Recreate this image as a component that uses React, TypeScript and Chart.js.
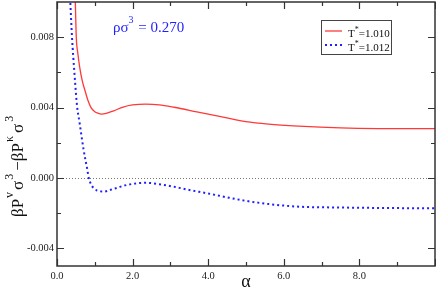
import React, { useEffect, useRef } from 'react';
import { Chart, registerables } from 'chart.js';

Chart.register(...registerables);

// ---- data ----
const alphaRed = [0.44, 0.484, 0.51, 0.55, 0.60, 0.67, 0.75, 0.82, 0.90, 1.0, 1.08, 1.18, 1.3, 1.5, 1.75, 2.0, 2.35, 2.7, 3.1, 3.7, 4.3, 5.0, 5.6, 6.4, 7.5, 8.5, 10];
const valueRed = [0.0118, 0.0100, 0.0080, 0.0071, 0.0063, 0.0055, 0.0049, 0.0044, 0.0040, 0.00377, 0.00368, 0.00363, 0.00367, 0.00382, 0.00403, 0.00415, 0.0042, 0.00416, 0.00402, 0.00376, 0.0035, 0.0032, 0.00306, 0.00295, 0.00285, 0.00281, 0.0028];

const alphaBlue = [0.30, 0.352, 0.397, 0.46, 0.53, 0.60, 0.661, 0.70, 0.75, 0.80, 0.84, 0.90, 0.97, 1.05, 1.15, 1.25, 1.4, 1.6, 1.8, 2.05, 2.35, 2.7, 3.1, 3.5, 4.0, 4.5, 5.0, 5.6, 6.4, 7.2, 8.0, 9.0, 10];
const valueBlue = [0.0125, 0.0100, 0.0080, 0.0060, 0.0041, 0.0031, 0.0022, 0.00165, 0.00105, 0.0005, 0.0, -0.00035, -0.00058, -0.0007, -0.00076, -0.00077, -0.00068, -0.00055, -0.00042, -0.00032, -0.00027, -0.00035, -0.0005, -0.00068, -0.00088, -0.0011, -0.0013, -0.00148, -0.00163, -0.00167, -0.00169, -0.00171, -0.00172];

const xMajorTicks = [0, 2, 4, 6, 8, 10];
const xMinorTicks = [1, 3, 5, 7, 9];
const yMajorTicks = [-0.004, 0, 0.004, 0.008];
const yMinorTicks = [-0.002, 0.002, 0.006];

const seriesTemps = ['1.010', '1.012'];
const densityValue = '0.270';

const SERIF = "'Liberation Serif', 'DejaVu Serif', serif";
const RED = '#ff3838';
const BLUE = '#1f1fff';

type Seg = { t: string; sup?: boolean; gap?: number };

function drawRich(ctx: CanvasRenderingContext2D, segs: Seg[], x: number, y: number, main: number, sup: number, rise: number) {
  let cx = x;
  for (const s of segs) {
    ctx.font = `${s.sup ? sup : main}px ${SERIF}`;
    ctx.fillText(s.t, cx, s.sup ? y - rise : y);
    cx += ctx.measureText(s.t).width + (s.gap || 0);
  }
}

const decorPlugin = {
  id: 'decor',
  beforeDatasetsDraw(chart: any) {
    const { ctx, chartArea, scales } = chart;
    const y0 = scales.y.getPixelForValue(0);
    ctx.save();
    ctx.strokeStyle = '#777';
    ctx.lineWidth = 1;
    ctx.setLineDash([1, 2]);
    ctx.beginPath();
    ctx.moveTo(chartArea.left, Math.round(y0) + 0.5);
    ctx.lineTo(chartArea.right, Math.round(y0) + 0.5);
    ctx.stroke();
    ctx.restore();
  },
  afterDraw(chart: any) {
    const { ctx, chartArea, scales } = chart;
    const { left, right, top, bottom } = chartArea;
    const xs = scales.x;
    const ys = scales.y;
    ctx.save();
    // frame
    ctx.strokeStyle = '#333';
    ctx.lineWidth = 1.5;
    ctx.strokeRect(left, top, right - left, bottom - top);
    // ticks
    ctx.lineWidth = 1.2;
    ctx.beginPath();
    const xt = (v: number, len: number) => {
      const p = Math.round(xs.getPixelForValue(v)) + 0.5;
      ctx.moveTo(p, bottom); ctx.lineTo(p, bottom - len);
      ctx.moveTo(p, top); ctx.lineTo(p, top + len);
    };
    const yt = (v: number, len: number) => {
      const p = Math.round(ys.getPixelForValue(v)) + 0.5;
      ctx.moveTo(left, p); ctx.lineTo(left + len, p);
      ctx.moveTo(right, p); ctx.lineTo(right - len, p);
    };
    xMajorTicks.forEach(v => xt(v, 7));
    xMinorTicks.forEach(v => xt(v, 4));
    yMajorTicks.forEach(v => yt(v, 7));
    yMinorTicks.forEach(v => yt(v, 4));
    ctx.stroke();

    // legend box
    ctx.fillStyle = '#fff';
    ctx.fillRect(321, 20, 70, 34);
    ctx.strokeStyle = '#444';
    ctx.lineWidth = 1;
    ctx.strokeRect(321.5, 20.5, 70, 34);
    const rows = [
      { color: RED, dash: [] as number[], width: 1.3, y: 31, t: seriesTemps[0] },
      { color: BLUE, dash: [2, 3], width: 2, y: 45, t: seriesTemps[1] },
    ];
    rows.forEach(r => {
      ctx.strokeStyle = r.color;
      ctx.lineWidth = r.width;
      ctx.setLineDash(r.dash);
      ctx.beginPath();
      ctx.moveTo(325, r.y);
      ctx.lineTo(342, r.y);
      ctx.stroke();
      ctx.setLineDash([]);
      ctx.fillStyle = '#111';
      ctx.textAlign = 'left';
      ctx.textBaseline = 'alphabetic';
      drawRich(ctx, [{ t: 'T' }, { t: '*', sup: true }, { t: '=' + r.t }], 348, r.y + 6, 11, 8, 5);
    });

    // density annotation
    ctx.fillStyle = BLUE;
    drawRich(ctx, [{ t: 'ρσ' }, { t: '3', sup: true, gap: 1 }, { t: ' = ' + densityValue }], 113, 32, 15, 10, 9);

    // x title
    ctx.fillStyle = '#111';
    ctx.font = `18px ${SERIF}`;
    ctx.textAlign = 'center';
    ctx.fillText('α', (left + right) / 2, 287);

    // y title
    ctx.save();
    ctx.translate(23, 217);
    ctx.rotate(-Math.PI / 2);
    ctx.textAlign = 'left';
    drawRich(ctx, [
      { t: 'βP', gap: 1 },
      { t: 'v', sup: true, gap: 2 },
      { t: 'σ', gap: 1 },
      { t: '3', sup: true, gap: 3 },
      { t: '−βP', gap: 1 },
      { t: 'κ', sup: true, gap: 3 },
      { t: 'σ', gap: 2 },
      { t: '3', sup: true },
    ], 0, 0, 17, 12, 10);
    ctx.restore();

    ctx.restore();
  },
};

export default function App() {
  const ref = useRef<HTMLCanvasElement>(null);
  useEffect(() => {
    if (!ref.current) return;
    const chart = new Chart(ref.current, {
      type: 'line',
      data: {
        datasets: [
          {
            label: 'T*=1.010',
            data: alphaRed.map((a, i) => ({ x: a, y: valueRed[i] })),
            borderColor: RED,
            borderWidth: 1.3,
            pointRadius: 0,
            cubicInterpolationMode: 'monotone',
            fill: false,
          },
          {
            label: 'T*=1.012',
            data: alphaBlue.map((a, i) => ({ x: a, y: valueBlue[i] })),
            borderColor: BLUE,
            borderWidth: 2,
            borderDash: [2, 3],
            pointRadius: 0,
            cubicInterpolationMode: 'monotone',
            fill: false,
          },
        ],
      },
      options: {
        responsive: false,
        animation: false,
        events: [],
        layout: { padding: { top: 2, right: 1, left: 0, bottom: 0 } },
        plugins: { legend: { display: false }, tooltip: { enabled: false } },
        scales: {
          x: {
            type: 'linear',
            min: 0,
            max: 10,
            grid: { display: false, drawTicks: false },
            border: { display: false },
            afterBuildTicks: (s: any) => { s.ticks = xMajorTicks.map(v => ({ value: v })); },
            afterFit: (s: any) => { s.height = 25; s.paddingLeft = 0; s.paddingRight = 0; },
            ticks: {
              autoSkip: false,
              maxRotation: 0,
              padding: 4,
              color: '#222',
              font: { family: SERIF, size: 10.5 },
              callback: (v: any) => (Number(v) >= 10 ? '' : Number(v).toFixed(1)),
            },
          },
          y: {
            type: 'linear',
            min: -0.005,
            max: 0.010,
            grid: { display: false, drawTicks: false },
            border: { display: false },
            afterBuildTicks: (s: any) => { s.ticks = yMajorTicks.map(v => ({ value: v })); },
            afterFit: (s: any) => { s.width = 57; s.paddingTop = 0; s.paddingBottom = 0; },
            ticks: {
              autoSkip: false,
              padding: 3,
              color: '#222',
              font: { family: SERIF, size: 10.5 },
              callback: (v: any) => Number(v).toFixed(3),
            },
          },
        },
      },
      plugins: [decorPlugin],
    } as any);
    return () => chart.destroy();
  }, []);
  return (
    <div style={{ position: 'fixed', left: 0, top: 0, width: 436, height: 291, background: '#fff' }}>
      <canvas ref={ref} width={436} height={291} style={{ display: 'block' }} />
    </div>
  );
}
